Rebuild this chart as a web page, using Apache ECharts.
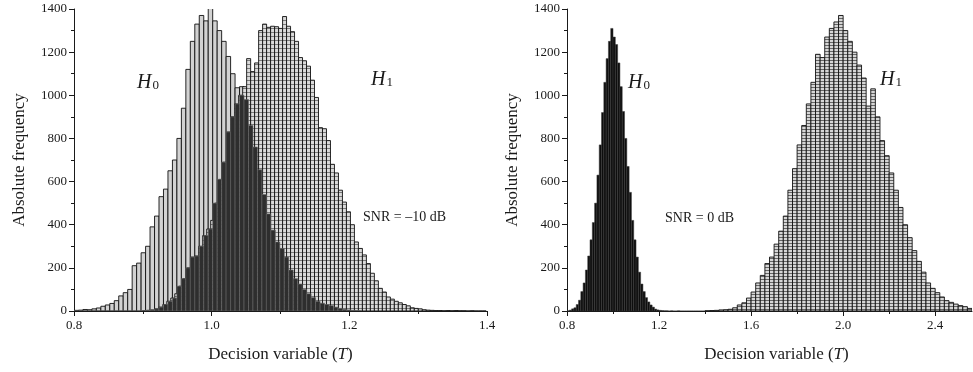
<!DOCTYPE html>
<html>
<head>
<meta charset="utf-8">
<script src="https://cdn.jsdelivr.net/npm/echarts@6/dist/echarts.min.js"></script>
<style>
  html, body { margin: 0; background: #fff; }
  #chart { width: 973px; height: 372px; }
</style>
</head>
<body>
<div id="chart"></div>
<script>
// SNR = -10 dB panel: H0 and H1 histograms (bin start, bin width, counts)
const leftH0Start = 0.8;
const leftH0Width = 0.0065;
const leftH0Counts = [
  3, 4, 7, 6, 10, 14, 22, 28, 35, 48,
  70, 85, 100, 210, 222, 270, 300, 390, 440, 530,
  565, 650, 700, 800, 940, 1120, 1250, 1330, 1370, 1345,
  1405, 1345, 1300, 1250, 1180, 1100, 1035, 1040, 980, 860,
  760, 655, 540, 450, 375, 320, 290, 250, 190, 150,
  125, 100, 80, 62, 45, 36, 30, 25, 18, 12,
  8, 5, 3, 2
];
const leftH1Start = 0.9;
const leftH1Width = 0.0058;
const leftH1Counts = [
  2, 3, 5, 10, 18, 30, 45, 60, 80, 115,
  150, 200, 250, 255, 300, 350, 380, 420, 500, 610,
  690, 830, 900, 960, 1000, 1040, 1170, 1110, 1150, 1300,
  1330, 1315, 1320, 1318, 1310, 1365, 1320, 1295, 1250, 1175,
  1160, 1135, 1070, 990, 850, 845, 790, 680, 640, 560,
  505, 460, 400, 320, 290, 260, 220, 175, 140, 105,
  88, 65, 55, 45, 38, 30, 24, 15, 12, 10,
  6, 4, 3, 2, 2, 1, 2, 1, 2, 1,
  1, 0, 1, 0, 0, 0
];

// SNR = 0 dB panel
const rightH0Start = 0.8;
const rightH0Width = 0.01;
const rightH0Counts = [
  1, 4, 10, 15, 30, 50, 90, 130, 190, 255,
  330, 410, 500, 630, 770, 920, 1060, 1170, 1250, 1310,
  1270, 1235, 1150, 1040, 925, 800, 670, 550, 420, 330,
  250, 180, 125, 90, 62, 42, 28, 18, 9, 5,
  3, 2, 1, 1, 0, 1, 0, 0, 1, 0,
  0, 0, 0, 0, 0, 0, 0, 0, 0, 0
];
const rightH1Start = 1.4;
const rightH1Width = 0.02;
const rightH1Counts = [
  1, 2, 3, 5, 6, 8, 15, 28, 38, 60,
  88, 130, 165, 220, 250, 310, 370, 440, 560, 660,
  770, 860, 960, 1060, 1190, 1175, 1270, 1310, 1340, 1370,
  1300, 1250, 1200, 1140, 1080, 950, 1030, 900, 790, 720,
  640, 560, 480, 400, 340, 280, 230, 180, 130, 105,
  85, 65, 48, 40, 32, 25, 20, 12
];

// axis ticks
const leftXTicks = [0.8, 1.0, 1.2, 1.4];
const rightXTicks = [0.8, 1.2, 1.6, 2.0, 2.4];
const rightXMinorTicks = [1.0, 1.4, 1.8, 2.2];

const serif = '"Liberation Serif", "DejaVu Serif", serif';
const ink = '#1a1a1a';

function stripes(bg, line, step) {
  const c = document.createElement('canvas');
  c.width = 4;
  c.height = step;
  const g = c.getContext('2d');
  g.fillStyle = bg;
  g.fillRect(0, 0, 4, step);
  g.fillStyle = line;
  g.fillRect(0, 0, 4, 1);
  return { image: c, repeat: 'repeat' };
}

function bins(start, width, counts) {
  return counts.map((c, i) => [start + i * width, start + (i + 1) * width, c]);
}

// height of the other histogram at a given x, used to shade where both overlap
function countAt(start, width, counts, x) {
  const i = Math.floor((x - start) / width);
  return i >= 0 && i < counts.length ? counts[i] : 0;
}

function histSeries(axis, data, style, z) {
  return {
    type: 'custom',
    xAxisIndex: axis === 0 ? 0 : 1,
    yAxisIndex: axis,
    data: data,
    encode: { x: [0, 1], y: 2 },
    clip: true,
    z: z,
    silent: true,
    renderItem: (params, api) => {
      const base = api.coord([api.value(0), 0]);
      const top = api.coord([api.value(1), api.value(2)]);
      return {
        type: 'rect',
        shape: { x: base[0], y: top[1], width: top[0] - base[0], height: base[1] - top[1] },
        style: style
      };
    }
  };
}

const overlapLeft = leftH0Counts.map((c, i) => {
  const x0 = leftH0Start + i * leftH0Width;
  const h1 = countAt(leftH1Start, leftH1Width, leftH1Counts, x0 + leftH0Width / 2);
  return [x0, x0 + leftH0Width, Math.min(c, h1)];
});

const labelStyle = { fontFamily: serif, fontSize: 13, color: ink };

function yAxis(gridIndex) {
  return {
    type: 'value', gridIndex, min: 0, max: 1400, interval: 200,
    name: 'Absolute frequency', nameLocation: 'middle', nameGap: 46,
    nameTextStyle: { fontFamily: serif, fontSize: 17, color: ink },
    axisLine: { show: true, lineStyle: { color: ink, width: 1 } },
    axisTick: { show: true, length: 5, lineStyle: { color: ink } },
    minorTick: { show: true, splitNumber: 2, length: 3, lineStyle: { color: ink } },
    splitLine: { show: false },
    axisLabel: Object.assign({ margin: 7, formatter: v => String(v) }, labelStyle)
  };
}

const xNameRich = {
  a: { fontFamily: serif, fontSize: 17, color: ink },
  t: { fontFamily: serif, fontSize: 17, color: ink, fontStyle: 'italic' }
};
const xNameText = '{a|Decision variable (}{t|T}{a|)}';

const chart = echarts.init(document.getElementById('chart'));

chart.setOption({
  animation: false,
  backgroundColor: '#fff',
  grid: [
    { left: 74, right: 486, top: 9, bottom: 61 },
    { left: 567, right: 1, top: 9, bottom: 61 }
  ],
  xAxis: [
    {
      type: 'value', gridIndex: 0, min: 0.8, max: 1.4, interval: 0.2,
      name: xNameText, nameLocation: 'middle', nameGap: 35,
      nameTextStyle: { rich: xNameRich },
      axisLine: { show: true, onZero: false, lineStyle: { color: ink } },
      axisTick: { show: true, length: 5, lineStyle: { color: ink } },
      minorTick: { show: true, splitNumber: 2, length: 3, lineStyle: { color: ink } },
      splitLine: { show: false },
      axisLabel: Object.assign({
        margin: 8,
        customValues: leftXTicks,
        formatter: v => v.toFixed(1)
      }, labelStyle)
    },
    {
      type: 'value', gridIndex: 1, min: 0.8, max: 2.56,
      name: xNameText, nameLocation: 'middle', nameGap: 35,
      nameTextStyle: { padding: [0, 0, 0, 14], rich: xNameRich },
      axisLine: { show: true, onZero: false, lineStyle: { color: ink } },
      axisTick: { show: true, length: 5, customValues: rightXTicks, lineStyle: { color: ink } },
      splitLine: { show: false },
      axisLabel: Object.assign({
        margin: 8,
        customValues: rightXTicks,
        formatter: v => v.toFixed(1)
      }, labelStyle)
    },
    {
      type: 'value', gridIndex: 1, min: 0.8, max: 2.56, position: 'bottom',
      axisLine: { show: false },
      axisTick: { show: true, length: 3, customValues: rightXMinorTicks, lineStyle: { color: ink } },
      axisLabel: { show: false },
      splitLine: { show: false }
    }
  ],
  yAxis: [yAxis(0), yAxis(1)],
  series: [
    histSeries(0, bins(leftH0Start, leftH0Width, leftH0Counts),
      { fill: '#d2d2d2', stroke: '#111', lineWidth: 0.9 }, 1),
    histSeries(0, bins(leftH1Start, leftH1Width, leftH1Counts),
      { fill: stripes('#dadada', '#7a7a7a', 4), stroke: '#111', lineWidth: 0.9 }, 2),
    histSeries(0, overlapLeft,
      { fill: '#2e2e2e', stroke: '#6a6a6a', lineWidth: 0.6 }, 3),
    histSeries(1, bins(rightH0Start, rightH0Width, rightH0Counts),
      { fill: '#0e0e0e', stroke: '#3a3a3a', lineWidth: 0.5 }, 1),
    histSeries(1, bins(rightH1Start, rightH1Width, rightH1Counts),
      { fill: stripes('#d6d6d6', '#666', 3), stroke: '#111', lineWidth: 0.9 }, 2)
  ],
  graphic: [
    { type: 'text', x: 137, y: 83, style: { text: '{h|H}{n|0}', verticalAlign: 'middle',
        rich: { h: { fontFamily: serif, fontSize: 20, fontStyle: 'italic', fill: ink },
                n: { fontFamily: serif, fontSize: 13, fill: ink, verticalAlign: 'bottom', padding: [0, 0, 1, 1] } } } },
    { type: 'text', x: 371, y: 80, style: { text: '{h|H}{n|1}', verticalAlign: 'middle',
        rich: { h: { fontFamily: serif, fontSize: 20, fontStyle: 'italic', fill: ink },
                n: { fontFamily: serif, fontSize: 13, fill: ink, verticalAlign: 'bottom', padding: [0, 0, 1, 1] } } } },
    { type: 'text', x: 363, y: 217, style: { text: 'SNR = \u201310 dB', verticalAlign: 'middle',
        fontFamily: serif, fontSize: 14, fill: ink } },
    { type: 'text', x: 628, y: 83, style: { text: '{h|H}{n|0}', verticalAlign: 'middle',
        rich: { h: { fontFamily: serif, fontSize: 20, fontStyle: 'italic', fill: ink },
                n: { fontFamily: serif, fontSize: 13, fill: ink, verticalAlign: 'bottom', padding: [0, 0, 1, 1] } } } },
    { type: 'text', x: 880, y: 80, style: { text: '{h|H}{n|1}', verticalAlign: 'middle',
        rich: { h: { fontFamily: serif, fontSize: 20, fontStyle: 'italic', fill: ink },
                n: { fontFamily: serif, fontSize: 13, fill: ink, verticalAlign: 'bottom', padding: [0, 0, 1, 1] } } } },
    { type: 'text', x: 665, y: 218, style: { text: 'SNR = 0 dB', verticalAlign: 'middle',
        fontFamily: serif, fontSize: 14, fill: ink } }
  ]
});
</script>
</body>
</html>
